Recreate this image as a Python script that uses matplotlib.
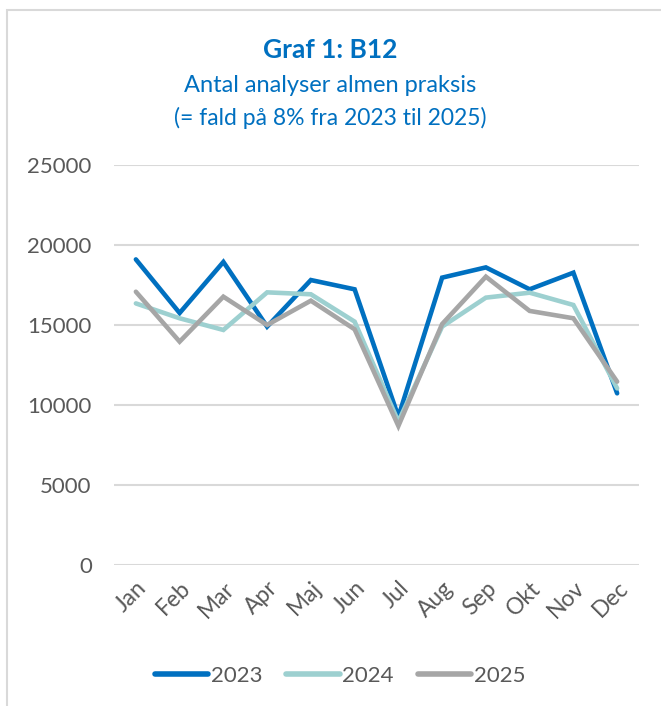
import matplotlib
matplotlib.use("Agg")
import matplotlib.pyplot as plt
from matplotlib.patches import Rectangle

# data
months = ["Jan", "Feb", "Mar", "Apr", "Maj", "Jun", "Jul", "Aug", "Sep", "Okt", "Nov", "Dec"]
years = ["2023", "2024", "2025"]
v2023 = [19100, 15750, 18940, 14900, 17810, 17230, 9270, 17960, 18600, 17230, 18270, 10730]
v2024 = [16350, 15420, 14690, 17040, 16920, 15210, 8960, 14900, 16710, 17020, 16250, 11040]
v2025 = [17080, 13960, 16770, 15000, 16520, 14730, 8690, 15060, 18020, 15880, 15420, 11460]
yticks = [0, 5000, 10000, 15000, 20000, 25000]

colors = ["#0070C0", "#9DD0D0", "#A6A6A6"]
text_grey = "#595959"
title_blue = "#0070C0"

plt.rcParams["font.family"] = ["Lato", "DejaVu Sans"]

fig = plt.figure(figsize=(6.61, 7.06), dpi=100)
W, H = 661, 706

# light grey frame around the chart area
fig.patches.append(Rectangle((7 / W, -0.05), 1.0, 1 - 10 / H + 0.05,
                             transform=fig.transFigure, fill=False,
                             edgecolor="#D9D9D9", linewidth=1.5))

ax = fig.add_axes([114 / W, 1 - 565 / H, (639 - 114) / W, (565 - 165) / H])

x = list(range(len(months)))
for vals, col, lab in zip([v2023, v2024, v2025], colors, years):
    ax.plot(x, vals, color=col, linewidth=3.3, label=lab,
            solid_capstyle="round", solid_joinstyle="miter")

ax.set_xlim(-0.5, 11.5)
ax.set_ylim(0, 25000)
ax.set_yticks(yticks)
ax.set_yticklabels([str(t) for t in yticks])
ax.set_xticks(x)
ax.set_xticklabels(months, rotation=45, ha="right", va="top", rotation_mode="anchor")
ax.tick_params(axis="y", length=0, pad=16, labelsize=16, labelcolor=text_grey)
ax.tick_params(axis="x", length=0, pad=9, labelsize=16.5, labelcolor=text_grey)
ax.grid(axis="y", color="#D9D9D9", linewidth=1.5)
ax.set_axisbelow(True)
for s in ax.spines.values():
    s.set_visible(False)

fig.text(0.5, 1 - 50 / H, "Graf 1: B12", ha="center", va="center",
         fontsize=19, fontweight="bold", color=title_blue)
fig.text(0.5, 1 - 86 / H, "Antal analyser almen praksis", ha="center", va="center",
         fontsize=17, color=title_blue)
fig.text(0.5, 1 - 118 / H, "(= fald på 8% fra 2023 til 2025)", ha="center", va="center",
         fontsize=16.5, color=title_blue)

leg = fig.legend(loc="center", bbox_to_anchor=(340 / W, 1 - 676 / H), ncol=3,
                 frameon=False, fontsize=16, handlelength=2.4, handletextpad=0.1,
                 columnspacing=1.1)
for t in leg.get_texts():
    t.set_color(text_grey)
for h in leg.get_lines():
    h.set_linewidth(4)

fig.savefig("out.png", dpi=100)
